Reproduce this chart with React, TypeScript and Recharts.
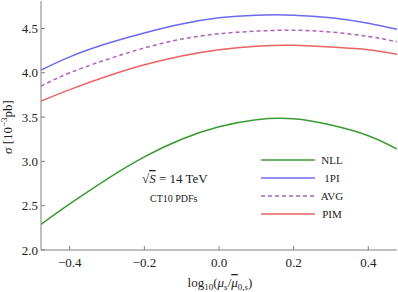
import { LineChart, Line, XAxis, YAxis, Customized } from 'recharts';

// log10(mu_s / mu_0,s), from 1/3 to 3
const muRatio = [-0.477, -0.4, -0.3, -0.2, -0.1, 0, 0.1, 0.2, 0.3, 0.4, 0.477];
const nll = [2.29, 2.52, 2.8, 3.05, 3.25, 3.39, 3.47, 3.48, 3.41, 3.29, 3.14];
const onePI = [4.03, 4.18, 4.33, 4.45, 4.55, 4.62, 4.65, 4.65, 4.62, 4.56, 4.49];
const avg = [3.85, 4.0, 4.15, 4.28, 4.38, 4.44, 4.47, 4.48, 4.46, 4.41, 4.35];
const pim = [3.68, 3.81, 3.96, 4.09, 4.19, 4.26, 4.3, 4.31, 4.29, 4.26, 4.21];

const xTicks = [-0.4, -0.2, 0, 0.2, 0.4];
const yTicks = [2.0, 2.5, 3.0, 3.5, 4.0, 4.5];

const data = muRatio.map((x, i) => ({ x, nll: nll[i], onePI: onePI[i], avg: avg[i], pim: pim[i] }));

const series = [
  { key: 'nll', name: 'NLL', color: '#3a9a33', dash: undefined },
  { key: 'onePI', name: '1PI', color: '#6a6af0', dash: undefined },
  { key: 'avg', name: 'AVG', color: '#b060c0', dash: '4 3' },
  { key: 'pim', name: 'PIM', color: '#ea6262', dash: undefined },
];

const FONT = '"Liberation Serif", "DejaVu Serif", serif';
const AXIS = '#808080';
const txt = { fontFamily: FONT, fill: '#222' };

const fmt = (v: number) => (v < 0 ? '\u2212' : '') + Math.abs(v).toFixed(1);

const BottomTick = (props: any) => {
  const { x, y, payload } = props;
  return (
    <g>
      <line x1={x} x2={x} y1={y} y2={y - 4} stroke={AXIS} />
      <text x={x} y={y + 17} textAnchor="middle" fontSize={13} style={txt}>
        {fmt(payload.value)}
      </text>
    </g>
  );
};

const TopTick = (props: any) => {
  const { x, y } = props;
  return <line x1={x} x2={x} y1={y} y2={y + 4} stroke={AXIS} />;
};

const LeftTick = (props: any) => {
  const { x, y, payload } = props;
  return (
    <g>
      <line x1={x} x2={x + 4} y1={y} y2={y} stroke={AXIS} />
      <text x={x - 3} y={y + 4.5} textAnchor="end" fontSize={13} style={txt}>
        {fmt(payload.value)}
      </text>
    </g>
  );
};

const RightTick = (props: any) => {
  const { x, y } = props;
  return <line x1={x} x2={x - 4} y1={y} y2={y} stroke={AXIS} />;
};

const Annotations = () => (
  <g style={txt}>
    <text transform="translate(12,127) rotate(-90)" textAnchor="middle" fontSize={13}>
      <tspan fontStyle="italic">σ</tspan> [10<tspan dy={-5} fontSize={9}>−3</tspan>
      <tspan dy={5}>pb]</tspan>
    </text>
    <text x={220} y={287} textAnchor="middle" fontSize={13}>
      log<tspan dy={3} fontSize={9}>10</tspan>
      <tspan dy={-3}>(</tspan>
      <tspan fontStyle="italic">μ</tspan>
      <tspan dy={3} fontSize={9} fontStyle="italic">s</tspan>
      <tspan dy={-3}>/</tspan>
      <tspan fontStyle="italic" textDecoration="overline">μ</tspan>
      <tspan dy={3} fontSize={9}>0,</tspan>
      <tspan fontSize={9} fontStyle="italic">s</tspan>
      <tspan dy={-3}>)</tspan>
    </text>
    <text x={142} y={183} fontSize={13}>
      √<tspan fontStyle="italic" textDecoration="overline">S</tspan> = 14 TeV
    </text>
    <text x={150} y={202} fontSize={10}>
      CT10 PDFs
    </text>
    {series.map((s, i) => (
      <g key={s.key}>
        <line x1={261} x2={315} y1={160 + i * 18} y2={160 + i * 18} stroke={s.color} strokeWidth={1.5} strokeDasharray={s.dash} />
        <text x={332} y={164 + i * 18} textAnchor="middle" fontSize={11}>
          {s.name}
        </text>
      </g>
    ))}
  </g>
);

export default function App() {
  return (
    <div style={{ position: 'absolute', left: 0, top: 0, width: 398, height: 292, background: '#fff' }}>
      <LineChart width={398} height={292} data={data} margin={{ top: 1, right: 1, left: 0, bottom: 0 }}>
        <XAxis
          dataKey="x"
          type="number"
          domain={[-0.477, 0.477]}
          ticks={xTicks}
          height={42}
          tickSize={0}
          tickMargin={0}
          tickLine={false}
          axisLine={{ stroke: AXIS }}
          tick={<BottomTick />}
          allowDataOverflow
        />
        <XAxis
          xAxisId="top"
          orientation="top"
          dataKey="x"
          type="number"
          domain={[-0.477, 0.477]}
          ticks={xTicks}
          height={0}
          tickSize={0}
          tickMargin={0}
          tickLine={false}
          axisLine={{ stroke: '#000' }}
          tick={<TopTick />}
          allowDataOverflow
        />
        <YAxis
          type="number"
          domain={[2.0, 4.81]}
          ticks={yTicks}
          width={41}
          tickSize={0}
          tickMargin={0}
          tickLine={false}
          axisLine={{ stroke: AXIS }}
          tick={<LeftTick />}
          allowDataOverflow
        />
        <YAxis
          yAxisId="right"
          orientation="right"
          type="number"
          domain={[2.0, 4.81]}
          ticks={yTicks}
          width={0}
          tickSize={0}
          tickMargin={0}
          tickLine={false}
          axisLine={{ stroke: '#000' }}
          tick={<RightTick />}
          allowDataOverflow
        />
        {series.map((s) => (
          <Line
            key={s.key}
            type="natural"
            dataKey={s.key}
            name={s.name}
            stroke={s.color}
            strokeWidth={1.5}
            strokeDasharray={s.dash}
            dot={false}
            isAnimationActive={false}
          />
        ))}
        <Customized component={Annotations} />
      </LineChart>
    </div>
  );
}
